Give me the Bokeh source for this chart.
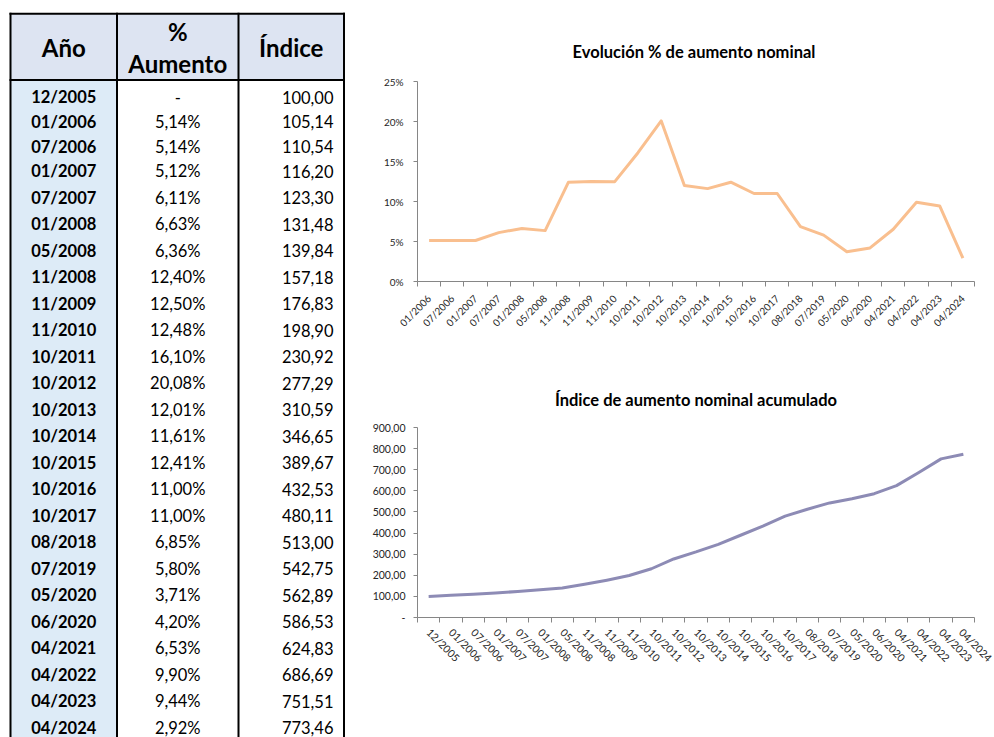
import math
from bokeh.plotting import figure
from bokeh.models import Range1d, FixedTicker, CustomJSTickFormatter, Title, ColumnDataSource
from bokeh.layouts import row, column
from bokeh.embed import file_html
from bokeh.resources import INLINE
from bokeh.core.properties import value

# ---------------- data ----------------
periods = ["12/2005", "01/2006", "07/2006", "01/2007", "07/2007", "01/2008", "05/2008",
           "11/2008", "11/2009", "11/2010", "10/2011", "10/2012", "10/2013", "10/2014",
           "10/2015", "10/2016", "10/2017", "08/2018", "07/2019", "05/2020", "06/2020",
           "04/2021", "04/2022", "04/2023", "04/2024"]
pct_increase = [None, 5.14, 5.14, 5.12, 6.11, 6.63, 6.36, 12.40, 12.50, 12.48, 16.10, 20.08,
                12.01, 11.61, 12.41, 11.00, 11.00, 6.85, 5.80, 3.71, 4.20, 6.53, 9.90, 9.44, 2.92]
index_values = [100.00, 105.14, 110.54, 116.20, 123.30, 131.48, 139.84, 157.18, 176.83, 198.90,
                230.92, 277.29, 310.59, 346.65, 389.67, 432.53, 480.11, 513.00, 542.75, 562.89,
                586.53, 624.83, 686.69, 751.51, 773.46]
header_labels = ["Año", "%", "Aumento", "Índice"]
pct_ticks = [0, 5, 10, 15, 20, 25]
index_ticks = [0, 100, 200, 300, 400, 500, 600, 700, 800, 900]
title_pct = "Evolución  % de aumento nominal"
title_index = "Índice de aumento nominal acumulado"

FONT = "Lato"
AXIS_GRAY = "#868686"
LABEL_COLOR = "#262626"

def fmt_pct(v):
    return "-" if v is None else ("%.2f%%" % v).replace(".", ",")

def fmt_idx(v):
    return ("%.2f" % v).replace(".", ",")

# ---------------- table ----------------
TW, TH = 363, 737
t = figure(width=TW, height=TH, x_range=Range1d(0, TW), y_range=Range1d(TH, 0),
           toolbar_location=None, output_backend="svg", min_border=0)
t.axis.visible = False
t.grid.visible = False
t.outline_line_color = None
t.background_fill_color = "white"
t.border_fill_color = "white"

L, C1, C2, R = 10, 116.5, 238, 343.5
TOP, HB = 13.3, 79.5
BOTTOM = TH + 20
t.quad(left=[L], right=[R], top=[TOP], bottom=[HB], fill_color="#dde4f2", line_color=None)
t.quad(left=[L], right=[C1], top=[HB], bottom=[BOTTOM], fill_color="#ddebf7", line_color=None)
for xx in [L, C1, C2, R]:
    t.segment(x0=[xx], y0=[TOP - 1], x1=[xx], y1=[BOTTOM], line_color="black", line_width=2)
for yy in [TOP, HB]:
    t.segment(x0=[L - 1], y0=[yy], x1=[R + 1], y1=[yy], line_color="black", line_width=2)

HFS = "24px"
t.text(x=[(L + C1) / 2], y=[47], text=[header_labels[0]], text_font=value(FONT),
       text_font_style="bold", text_font_size=HFS, text_align="center", text_baseline="middle")
t.text(x=[(C1 + C2) / 2, (C1 + C2) / 2], y=[31, 63], text=header_labels[1:3], text_font=value(FONT),
       text_font_style="bold", text_font_size=HFS, text_align="center", text_baseline="middle")
t.text(x=[(C2 + R) / 2], y=[47], text=[header_labels[3]], text_font=value(FONT),
       text_font_style="bold", text_font_size=HFS, text_align="center", text_baseline="middle")

# row centres (first rows slightly shorter than the rest, as in the sheet)
row_y = [96.7 + 24.7 * min(i, 3) + 26.5 * max(0, i - 3) for i in range(len(periods))]
t.text(x=[(L + C1) / 2] * len(periods), y=row_y, text=periods, text_font=value(FONT),
       text_font_style="bold", text_font_size="16.5px", text_align="center", text_baseline="middle")
t.text(x=[(C1 + C2) / 2] * len(periods), y=row_y, text=[fmt_pct(v) for v in pct_increase],
       text_font=value(FONT), text_font_size="16.5px", text_align="center", text_baseline="middle")
t.text(x=[R - 10.5] * len(periods), y=row_y, text=[fmt_idx(v) for v in index_values],
       text_font=value(FONT), text_font_size="16.5px", text_align="right", text_baseline="middle")


def style_chart(p, label_size):
    p.grid.visible = False
    p.outline_line_color = None
    p.background_fill_color = "white"
    p.border_fill_color = "white"
    for ax in p.axis:
        ax.axis_line_color = AXIS_GRAY
        ax.major_tick_line_color = AXIS_GRAY
        ax.minor_tick_line_color = AXIS_GRAY
        ax.major_label_text_font = FONT
        ax.major_label_text_font_size = label_size
        ax.major_label_text_color = LABEL_COLOR
    p.yaxis.major_tick_out = 4
    p.yaxis.major_tick_in = 0
    p.yaxis.minor_tick_out = 0
    p.yaxis.minor_tick_in = 0
    p.xaxis.major_tick_out = 0
    p.xaxis.major_tick_in = 0
    p.xaxis.minor_tick_out = 5
    p.xaxis.minor_tick_in = 0

CW = 994 - TW  # 631

# ---------------- chart 1 ----------------
n1 = len(periods) - 1
c1 = figure(width=CW, height=370, x_range=Range1d(0, n1), y_range=Range1d(0, 25),
            toolbar_location=None, output_backend="svg",
            min_border_left=41, min_border_right=2, min_border_top=81, min_border_bottom=89)
c1.title = Title(text=title_pct, align="center", text_font=FONT, text_font_size="16.5px",
                 text_font_style="bold", text_color="black", standoff=40)
style_chart(c1, "10px")
c1.xaxis.ticker = FixedTicker(ticks=[i + 0.5 for i in range(n1)], minor_ticks=list(range(n1 + 1)))
c1.xaxis.formatter = CustomJSTickFormatter(args=dict(labels=periods[1:]),
                                           code="const k = Math.floor(tick); return (k >= 0 && k < labels.length) ? labels[k] : '';")
c1.xaxis.major_label_orientation = math.pi / 4
c1.xaxis.major_label_standoff = 10
c1.xaxis.major_label_text_font_size = "10px"
c1.yaxis.ticker = FixedTicker(ticks=pct_ticks, minor_ticks=[])
c1.yaxis.formatter = CustomJSTickFormatter(code="return tick.toFixed(0) + '%';")
c1.yaxis.major_label_standoff = 10
src1 = ColumnDataSource(dict(x=[i + 0.5 for i in range(n1)], y=pct_increase[1:]))
c1.line("x", "y", source=src1, line_color="#f9bf8f", line_width=3, line_join="round")

# ---------------- chart 2 ----------------
n2 = len(periods)
c2 = figure(width=CW, height=367, x_range=Range1d(0, n2), y_range=Range1d(0, 900),
            toolbar_location=None, output_backend="svg",
            min_border_left=54, min_border_right=20, min_border_top=53, min_border_bottom=120)
c2.title = Title(text=title_index, align="center", text_font=FONT, text_font_size="16.5px",
                 text_font_style="bold", text_color="black", standoff=35)
style_chart(c2, "10.5px")
c2.xaxis.ticker = FixedTicker(ticks=[i + 0.5 for i in range(n2)], minor_ticks=list(range(n2 + 1)))
c2.xaxis.formatter = CustomJSTickFormatter(args=dict(labels=periods),
                                           code="const k = Math.floor(tick); return (k >= 0 && k < labels.length) ? labels[k] : '';")
c2.xaxis.major_label_orientation = -math.pi / 4
c2.xaxis.major_label_standoff = 8
c2.xaxis.major_label_text_font_size = "10.5px"
c2.yaxis.ticker = FixedTicker(ticks=index_ticks, minor_ticks=[])
c2.yaxis.formatter = CustomJSTickFormatter(code="if (tick == 0) { return '-'; } return tick.toFixed(2).replace('.', ',');")
c2.yaxis.major_label_standoff = 8
src2 = ColumnDataSource(dict(x=[i + 0.5 for i in range(n2)], y=index_values))
c2.line("x", "y", source=src2, line_color="#8d8bb5", line_width=3, line_join="round")

layout = row(t, column(c1, c2, spacing=0), spacing=0)
open("out.html", "w").write(file_html(layout, INLINE))
